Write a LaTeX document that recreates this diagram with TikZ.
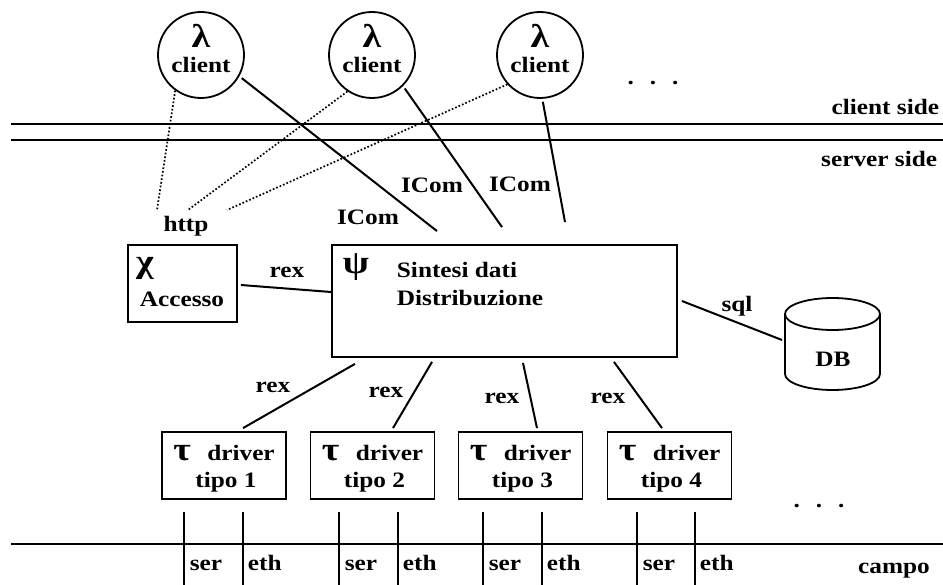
\documentclass[tikz,border=0pt]{standalone}
\usepackage{fontspec}
\setmainfont{Liberation Serif}[FakeStretch=1.15]
\begin{document}
\begin{tikzpicture}[x=1pt,y=-1pt,line width=1.8pt,
  txt/.style={font=\fontsize{22}{24}\selectfont\bfseries, inner sep=0pt, anchor=base},
  greek/.style={font=\fontsize{33}{35}\selectfont\bfseries, inner sep=0pt, anchor=base},
  clientnode/.style={draw, circle, minimum size=86pt, inner sep=0pt},
  box/.style={draw, rectangle, inner sep=0pt},
  link/.style={line width=2pt},
  web/.style={line width=1.7pt, dotted}]
\useasboundingbox (0,0) rectangle (943,585);

% client / server separator
\coordinate (sepA0) at (11,124);  \coordinate (sepA1) at (943,124);
\coordinate (sepB0) at (11,140);  \coordinate (sepB1) at (943,140);
\draw (sepA0) -- (sepA1);
\draw (sepB0) -- (sepB1);
\node[txt, anchor=base east] (cside) at (940,115) {client side};
\node[txt, anchor=base east] (sside) at (938,167) {server side};

% clients
\foreach \n/\x in {1/201,2/372,3/540}{
  \node[clientnode] (c\n) at (\x,55) {};
  \node[greek] (lam\n) at (\x,48) {λ};
  \node[txt] (cl\n) at (\x,73) {client};
}
\node[txt] (dotsTop) at (653,85) {.\hspace{16pt}.\hspace{16pt}.};

% http access from the clients
\node[txt] (http) at (186,232) {http};
\coordinate (h1) at (157,210);
\coordinate (h2) at (188,210);
\coordinate (h3) at (227,210);
\draw[web] (c1.-126) -- (h1);
\draw[web] (c2.-124) -- (h2);
\draw[web] (c3.-138) -- (h3);

% Accesso
\node[box, minimum width=109pt, minimum height=77pt] (acc) at (182.5,283.5) {};
\node[greek] (chi) at (145,273) {χ};
\node[txt] (acctxt) at (182,307) {Accesso};

% Sintesi dati / Distribuzione
\node[box, minimum width=345pt, minimum height=112pt] (psi) at (504.5,301) {};
\node[greek] (psisym) at (356,274) {ψ};
\node[txt, anchor=base west] (sint) at (396,278) {Sintesi dati};
\node[txt, anchor=base west] (distr) at (396,306) {Distribuzione};

% ICom connections
\draw[link, shorten <=3pt] (c1.-29) -- ([xshift=-67.5pt,yshift=13pt]psi.north);
\draw[link, shorten <=3pt] (c2.-45) -- ([xshift=-2.5pt,yshift=17pt]psi.north);
\draw[link, shorten <=3pt] (c3.-87) -- ([xshift=60.5pt,yshift=22pt]psi.north);
\node[txt] (icom1) at (368,225) {ICom};
\node[txt] (icom2) at (432,193) {ICom};
\node[txt] (icom3) at (520,192) {ICom};

% Accesso -- Psi
\draw[link] ([xshift=3pt,yshift=-1.5pt]acc.east) -- ([yshift=9pt]psi.west);
\node[txt] (rexacc) at (287,278) {rex};

% database
\node[txt] (db) at (833,367) {DB};
\draw (785,314) -- (785,374) arc[start angle=180, end angle=0, x radius=47.5, y radius=16] -- (880,314);
\draw (832.5,314) ellipse [x radius=47.5, y radius=16];
\coordinate (dbin) at (782,340);
\draw[link] ([xshift=4pt]psi.east) -- (dbin);
\node[txt] (sql) at (737,312) {sql};

% drivers
\foreach \n/\x in {1/224,2/372.5,3/520.5,4/669.5}{
  \node[box, minimum width=124pt, minimum height=67pt] (d\n) at (\x,465.5) {};
  \node[greek] (tau\n) at ([xshift=21pt]d\n.west |- 0,460) {τ};
  \node[txt] (drv\n) at (\x+17,460) {driver};
  \node[txt] (tipo\n) at (\x+2,487) {tipo \n};
}
\node[txt] (dotsBot) at (819,507) {.\hspace{16pt}.\hspace{16pt}.};

% rex links to the drivers
\draw[link] ([xshift=-149.5pt,yshift=-6pt]psi.south) -- ([xshift=19pt,yshift=3pt]d1.north);
\draw[link] ([xshift=-72.5pt,yshift=-4pt]psi.south) -- ([xshift=20.5pt,yshift=3pt]d2.north);
\draw[link] ([xshift=18.5pt,yshift=-5pt]psi.south) -- ([xshift=16.5pt,yshift=3pt]d3.north);
\draw[link] ([xshift=109.5pt,yshift=-4pt]psi.south) -- ([xshift=-7.5pt,yshift=3pt]d4.north);
\node[txt] (rex1) at (273,392) {rex};
\node[txt] (rex2) at (386,398) {rex};
\node[txt] (rex3) at (502,403) {rex};
\node[txt] (rex4) at (608,403) {rex};

% field bus
\coordinate (fb0) at (11,544); \coordinate (fb1) at (943,544);
\draw (fb0) -- (fb1);
\foreach \n/\s/\e in {1/184/243,2/339/398,3/483/542,4/637/695}{
  \coordinate (s\n a) at (\s,512); \coordinate (s\n b) at (\s,585);
  \coordinate (e\n a) at (\e,512); \coordinate (e\n b) at (\e,585);
  \draw (s\n a) -- (s\n b);
  \draw (e\n a) -- (e\n b);
  \node[txt, anchor=base west] (ser\n) at (\s+5,570) {ser};
  \node[txt, anchor=base west] (eth\n) at (\e+4,570) {eth};
}
\node[txt] (campo) at (894,573) {campo};
\end{tikzpicture}
\end{document}
